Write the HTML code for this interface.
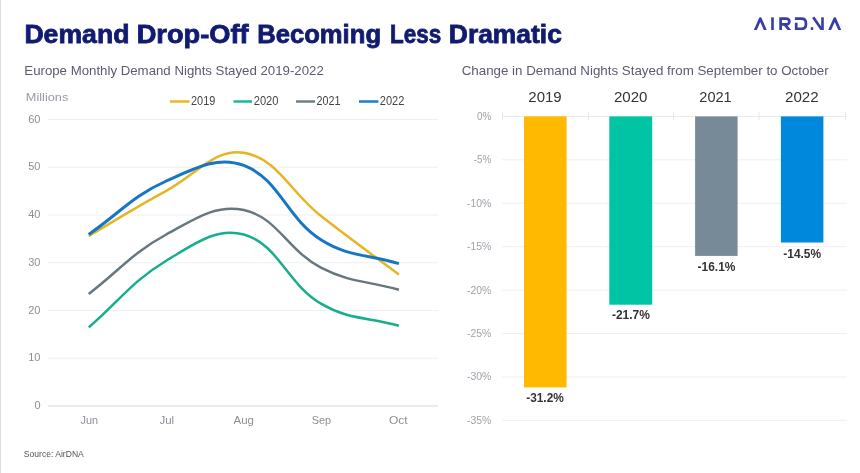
<!DOCTYPE html>
<html><head><meta charset="utf-8">
<style>
html,body{margin:0;padding:0;background:#fff;}
body{width:860px;height:473px;overflow:hidden;position:relative;}
svg{position:absolute;left:0;top:0;will-change:transform;}
text{font-family:"Liberation Sans",sans-serif;}
</style></head><body>
<svg width="860" height="473" viewBox="0 0 860 473">
<rect x="0" y="0" width="1" height="473" fill="#dcdcdc"/>
<text x="24.4" y="42.5" font-size="25" font-weight="bold" fill="#111c70" stroke="#111c70" stroke-width="0.8" textLength="105.03" lengthAdjust="spacingAndGlyphs">Demand</text><text x="136.7" y="42.5" font-size="25" font-weight="bold" fill="#111c70" stroke="#111c70" stroke-width="0.8" textLength="111.84" lengthAdjust="spacingAndGlyphs">Drop-Off</text><text x="257.2" y="42.5" font-size="25" font-weight="bold" fill="#111c70" stroke="#111c70" stroke-width="0.8" textLength="123.85" lengthAdjust="spacingAndGlyphs">Becoming</text><text x="390.0" y="42.5" font-size="25" font-weight="bold" fill="#111c70" stroke="#111c70" stroke-width="0.8" textLength="51.18" lengthAdjust="spacingAndGlyphs">Less</text><text x="448.8" y="42.5" font-size="25" font-weight="bold" fill="#111c70" stroke="#111c70" stroke-width="0.8" textLength="113.09" lengthAdjust="spacingAndGlyphs">Dramatic</text>
<defs><clipPath id="lc"><rect x="740" y="16" width="110" height="14"/></clipPath></defs>
<g fill="none" stroke="#383ea8" stroke-width="2.7" clip-path="url(#lc)">
<path d="M754.9 31 L760.3 18.6 L765.7 31" stroke-linejoin="round"/>
<path d="M780.6 31 V18.55 H786.5 A2.9 2.9 0 0 1 786.5 24.35 H780.6"/>
<path d="M784.6 24.3 L790.4 31.2"/>
<path d="M796.2 22.8 V28.85 H801.6 Q805.9 28.85 805.9 24.6 V23 Q805.9 18.55 801.6 18.55 H794.9"/>
<path d="M813.2 17.2 L822.6 30.8"/>
<path d="M829.2 31 L834.8 18.6 L840.2 31" stroke-linejoin="round"/>
</g>
<g fill="#383ea8">
<rect x="771.2" y="17.3" width="2.6" height="12.7"/>
<rect x="821.2" y="17.3" width="2.6" height="12.7"/>
<rect x="810.8" y="27.2" width="2.4" height="2.8"/>
</g>
<text x="24.3" y="75.3" font-size="13" fill="#5b5b72" textLength="299.5" lengthAdjust="spacingAndGlyphs">Europe Monthly Demand Nights Stayed 2019-2022</text>
<text x="461.7" y="75.3" font-size="13" fill="#5b5b72" textLength="367" lengthAdjust="spacingAndGlyphs">Change in Demand Nights Stayed from September to October</text>
<text x="25.8" y="101.3" font-size="11" fill="#9a9aa6" textLength="42.5" lengthAdjust="spacingAndGlyphs">Millions</text>
<line x1="48" y1="358.25" x2="438" y2="358.25" stroke="#efefef" stroke-width="1"/><line x1="48" y1="310.5" x2="438" y2="310.5" stroke="#efefef" stroke-width="1"/><line x1="48" y1="262.75" x2="438" y2="262.75" stroke="#efefef" stroke-width="1"/><line x1="48" y1="215.0" x2="438" y2="215.0" stroke="#efefef" stroke-width="1"/><line x1="48" y1="167.25" x2="438" y2="167.25" stroke="#efefef" stroke-width="1"/><line x1="48" y1="119.5" x2="438" y2="119.5" stroke="#efefef" stroke-width="1"/><line x1="48" y1="406" x2="438" y2="406" stroke="#ebebeb" stroke-width="1.8"/>
<g font-size="11" fill="#8e8e9a" text-anchor="end"><text x="40.5" y="409.20">0</text><text x="40.5" y="361.45">10</text><text x="40.5" y="313.70">20</text><text x="40.5" y="265.95">30</text><text x="40.5" y="218.20">40</text><text x="40.5" y="170.45">50</text><text x="40.5" y="122.70">60</text></g>
<text x="80.5" y="423.7" font-size="11" fill="#8e8e9a" textLength="17.53" lengthAdjust="spacingAndGlyphs">Jun</text><text x="159.5" y="423.7" font-size="11" fill="#8e8e9a" textLength="14.66" lengthAdjust="spacingAndGlyphs">Jul</text><text x="233.5" y="423.7" font-size="11" fill="#8e8e9a" textLength="20.47" lengthAdjust="spacingAndGlyphs">Aug</text><text x="311.7" y="423.7" font-size="11" fill="#8e8e9a" textLength="19.47" lengthAdjust="spacingAndGlyphs">Sep</text><text x="389.0" y="423.7" font-size="11" fill="#8e8e9a" textLength="18.71" lengthAdjust="spacingAndGlyphs">Oct</text>
<g stroke-width="2.5">
<line x1="170" y1="101.5" x2="189.5" y2="101.5" stroke="#e8b820"/>
<line x1="233.5" y1="101.5" x2="252" y2="101.5" stroke="#1bb89c"/>
<line x1="296" y1="101.5" x2="315" y2="101.5" stroke="#6f7f8a"/>
<line x1="359" y1="101.5" x2="378.5" y2="101.5" stroke="#1a7fd0"/>
</g>
<g font-size="12" fill="#444">
<text x="191" y="105.2" textLength="24.3" lengthAdjust="spacingAndGlyphs">2019</text>
<text x="253.7" y="105.2" textLength="24.8" lengthAdjust="spacingAndGlyphs">2020</text>
<text x="316.6" y="105.2" textLength="23.9" lengthAdjust="spacingAndGlyphs">2021</text>
<text x="379.8" y="105.2" textLength="24.5" lengthAdjust="spacingAndGlyphs">2022</text>
</g>
<g fill="none" stroke-linecap="butt" stroke-linejoin="round">
<path d="M88.70 293.98 C119.72 270.18 132.39 252.82 166.25 234.48 C194.43 219.22 215.47 203.88 243.80 209.99 C277.51 217.25 287.49 250.49 321.35 267.91 C349.53 282.41 367.88 281.03 398.90 289.78" stroke="#67777f" stroke-width="2.5"/>
<path d="M88.70 327.40 C119.72 300.72 131.79 281.34 166.25 260.70 C193.83 244.17 216.49 226.87 243.80 234.48 C278.53 244.16 286.38 283.33 321.35 303.91 C348.42 319.85 367.88 317.03 398.90 325.78" stroke="#17ae90" stroke-width="2.5"/>
<path d="M88.70 236.01 C119.72 217.92 134.64 207.77 166.25 190.79 C196.68 174.44 215.09 147.96 243.80 152.69 C277.13 158.18 289.80 191.56 321.35 216.34 C351.84 240.28 367.88 251.23 398.90 274.50" stroke="#e6b424" stroke-width="2.5"/>
<path d="M88.70 234.39 C119.72 213.03 132.54 196.00 166.25 181.00 C194.58 168.40 217.52 155.38 243.80 165.39 C279.56 179.01 285.95 217.65 321.35 240.07 C347.99 256.94 367.88 254.19 398.90 263.61" stroke="#1676c6" stroke-width="3"/>
</g>
<line x1="502" y1="159.83" x2="847" y2="159.83" stroke="#efefef" stroke-width="1"/><line x1="502" y1="203.26" x2="847" y2="203.26" stroke="#efefef" stroke-width="1"/><line x1="502" y1="246.69" x2="847" y2="246.69" stroke="#efefef" stroke-width="1"/><line x1="502" y1="290.12" x2="847" y2="290.12" stroke="#efefef" stroke-width="1"/><line x1="502" y1="333.55" x2="847" y2="333.55" stroke="#efefef" stroke-width="1"/><line x1="502" y1="376.98" x2="847" y2="376.98" stroke="#efefef" stroke-width="1"/><line x1="502" y1="420.41" x2="847" y2="420.41" stroke="#efefef" stroke-width="1"/><line x1="502" y1="116.4" x2="847" y2="116.4" stroke="#e8e8e8" stroke-width="1"/>
<line x1="502.5" y1="112" x2="502.5" y2="120" stroke="#e8e8e8" stroke-width="1"/><line x1="588.5" y1="112" x2="588.5" y2="120" stroke="#e8e8e8" stroke-width="1"/><line x1="673.5" y1="112" x2="673.5" y2="120" stroke="#e8e8e8" stroke-width="1"/><line x1="759" y1="112" x2="759" y2="120" stroke="#e8e8e8" stroke-width="1"/><line x1="845.5" y1="112" x2="845.5" y2="120" stroke="#e8e8e8" stroke-width="1"/>
<text x="477.0" y="119.8" font-size="11" fill="#a0a0ac" textLength="14.4" lengthAdjust="spacingAndGlyphs">0%</text><text x="473.7" y="163.23" font-size="11" fill="#a0a0ac" textLength="17.66" lengthAdjust="spacingAndGlyphs">-5%</text><text x="467.0" y="206.66" font-size="11" fill="#a0a0ac" textLength="24.38" lengthAdjust="spacingAndGlyphs">-10%</text><text x="467.0" y="250.09" font-size="11" fill="#a0a0ac" textLength="24.38" lengthAdjust="spacingAndGlyphs">-15%</text><text x="467.0" y="293.52" font-size="11" fill="#a0a0ac" textLength="24.38" lengthAdjust="spacingAndGlyphs">-20%</text><text x="467.0" y="336.95" font-size="11" fill="#a0a0ac" textLength="24.38" lengthAdjust="spacingAndGlyphs">-25%</text><text x="467.0" y="380.38" font-size="11" fill="#a0a0ac" textLength="24.38" lengthAdjust="spacingAndGlyphs">-30%</text><text x="467.0" y="423.81" font-size="11" fill="#a0a0ac" textLength="24.38" lengthAdjust="spacingAndGlyphs">-35%</text>
<rect x="524" y="116.4" width="42.6" height="271" fill="#ffb900"/>
<rect x="609.3" y="116.4" width="42.9" height="188.3" fill="#00c4a3"/>
<rect x="695.1" y="116.4" width="42.5" height="139.5" fill="#768b97"/>
<rect x="780.9" y="116.4" width="42.5" height="126.1" fill="#0088dd"/>
<text x="528.3" y="101.7" font-size="15" fill="#333" textLength="33.37" lengthAdjust="spacingAndGlyphs">2019</text><text x="614.0" y="101.7" font-size="15" fill="#333" textLength="33.47" lengthAdjust="spacingAndGlyphs">2020</text><text x="699.3" y="101.7" font-size="15" fill="#333" textLength="32.37" lengthAdjust="spacingAndGlyphs">2021</text><text x="785.0" y="101.7" font-size="15" fill="#333" textLength="33.57" lengthAdjust="spacingAndGlyphs">2022</text>
<text x="526.2" y="401.7" font-size="12" font-weight="bold" fill="#333" textLength="37.62" lengthAdjust="spacingAndGlyphs">-31.2%</text><text x="611.9" y="319.2" font-size="12" font-weight="bold" fill="#333" textLength="38.02" lengthAdjust="spacingAndGlyphs">-21.7%</text><text x="697.6" y="271.1" font-size="12" font-weight="bold" fill="#333" textLength="37.82" lengthAdjust="spacingAndGlyphs">-16.1%</text><text x="783.3" y="257.6" font-size="12" font-weight="bold" fill="#333" textLength="37.82" lengthAdjust="spacingAndGlyphs">-14.5%</text>
<text x="23.8" y="457.3" font-size="9.3" fill="#555" textLength="60" lengthAdjust="spacingAndGlyphs">Source: AirDNA</text>
</svg>
</body></html>
